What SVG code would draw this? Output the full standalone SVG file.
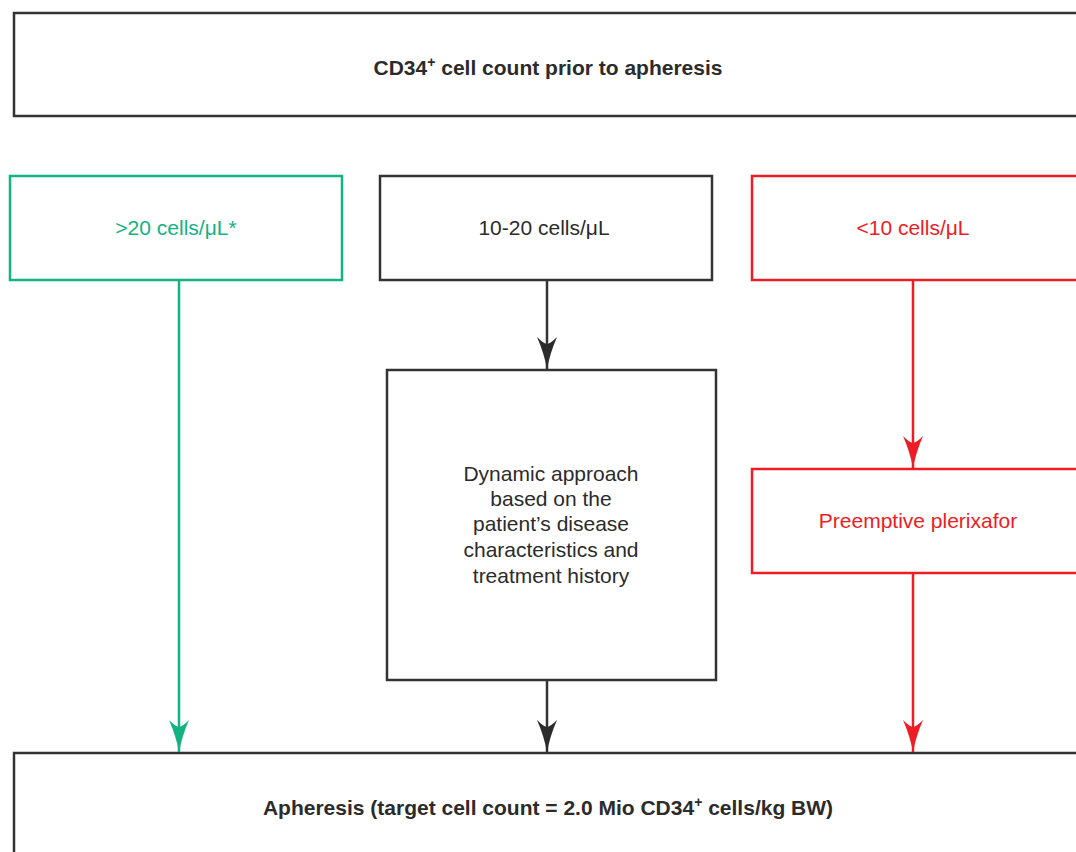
<svg xmlns="http://www.w3.org/2000/svg" width="1076" height="852" viewBox="0 0 1076 852">
<style>
.box{fill:#fff;stroke-width:2.5}
.dk{stroke:#333}
.gr{stroke:#13b283}
.rd{stroke:#ee1c25}
text{font-family:"Liberation Sans",Arial,sans-serif;font-size:21px;text-anchor:middle}
.b{font-weight:bold;fill:#2b2b2b}
.tdk{fill:#2b2b2b}
.tgr{fill:#13b283}
.trd{fill:#ee1c25}
.ln{fill:none;stroke-width:2.5}
.sup{font-size:14px}
</style>
<defs>
<marker id="ahd" markerUnits="userSpaceOnUse" markerWidth="22" markerHeight="34" viewBox="-11 -33 22 34" refX="0" refY="0" orient="auto" overflow="visible">
<path d="M0,0 Q-3,-16 -10,-32 Q-3,-25 0,-25 Q3,-25 10,-32 Q3,-16 0,0Z" fill="#2b2b2b" transform="rotate(-90)"/>
</marker>
<marker id="ahg" markerUnits="userSpaceOnUse" markerWidth="22" markerHeight="34" viewBox="-11 -33 22 34" refX="0" refY="0" orient="auto" overflow="visible">
<path d="M0,0 Q-3,-16 -10,-32 Q-3,-25 0,-25 Q3,-25 10,-32 Q3,-16 0,0Z" fill="#13b283" transform="rotate(-90)"/>
</marker>
<marker id="ahr" markerUnits="userSpaceOnUse" markerWidth="22" markerHeight="34" viewBox="-11 -33 22 34" refX="0" refY="0" orient="auto" overflow="visible">
<path d="M0,0 Q-3,-16 -10,-32 Q-3,-25 0,-25 Q3,-25 10,-32 Q3,-16 0,0Z" fill="#ee1c25" transform="rotate(-90)"/>
</marker>
</defs>
<g id="top">
<rect class="box dk" x="14" y="13" width="1080" height="103"/>
<text class="b" x="548" y="75">CD34<tspan class="sup" dy="-8">+</tspan><tspan dy="8"> cell count prior to apheresis</tspan></text>
</g>
<g id="high">
<rect class="box gr" x="10" y="176" width="332" height="104"/>
<text class="tgr" x="176" y="235">&gt;20 cells/μL*</text>
</g>
<g id="mid">
<rect class="box dk" x="380" y="176" width="332" height="104"/>
<text class="tdk" x="544" y="235">10-20 cells/μL</text>
</g>
<g id="low">
<rect class="box rd" x="752" y="176" width="340" height="104"/>
<text class="trd" x="913" y="235">&lt;10 cells/μL</text>
</g>
<g id="dynamic">
<rect class="box dk" x="387" y="370" width="329" height="310"/>
<text class="tdk" x="551" y="481">Dynamic approach</text>
<text class="tdk" x="551" y="506">based on the</text>
<text class="tdk" x="551" y="531">patient’s disease</text>
<text class="tdk" x="551" y="557">characteristics and</text>
<text class="tdk" x="551" y="583">treatment history</text>
</g>
<g id="plerixafor">
<rect class="box rd" x="752" y="469" width="340" height="104"/>
<text class="trd" x="918" y="528">Preemptive plerixafor</text>
</g>
<g id="apheresis">
<rect class="box dk" x="14" y="753" width="1080" height="120"/>
<text class="b" x="548" y="815">Apheresis (target cell count = 2.0 Mio CD34<tspan class="sup" dy="-8">+</tspan><tspan dy="8"> cells/kg BW)</tspan></text>
</g>
<g id="connectors">
<line class="ln gr" x1="179" y1="281" x2="179" y2="752" marker-end="url(#ahg)"/>
<line class="ln dk" x1="547" y1="281" x2="547" y2="369" marker-end="url(#ahd)"/>
<line class="ln dk" x1="547" y1="681" x2="547" y2="752" marker-end="url(#ahd)"/>
<line class="ln rd" x1="913" y1="281" x2="913" y2="468" marker-end="url(#ahr)"/>
<line class="ln rd" x1="913" y1="574" x2="913" y2="752" marker-end="url(#ahr)"/>
</g>
</svg>
